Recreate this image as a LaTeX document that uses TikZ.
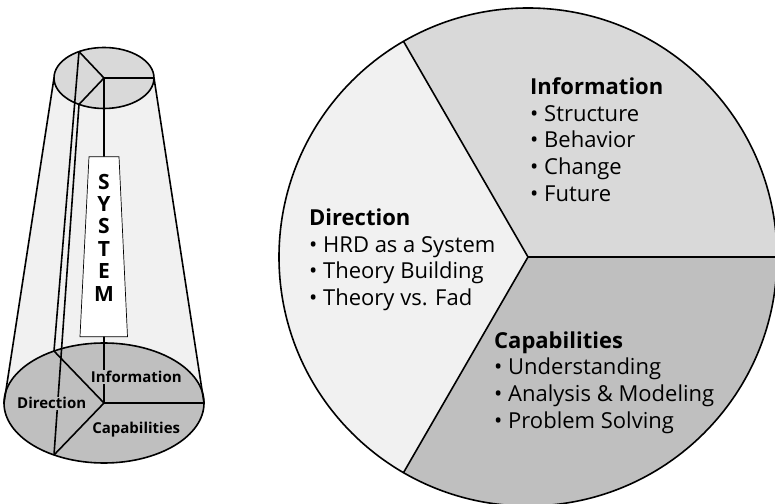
\documentclass[tikz,border=0pt]{standalone}
\usepackage{fontspec}
\setmainfont{Open Sans}
\definecolor{lightgrey}{gray}{0.945}
\definecolor{midgrey}{gray}{0.85}
\definecolor{darkgrey}{gray}{0.75}
\tikzset{outline/.style={line width=1.6pt}}
\tikzset{boxline/.style={line width=0.7pt}}
\tikzset{block/.style={anchor=north west, inner sep=0pt, align=left, font=\fontsize{22}{26.7}\selectfont}}
\tikzset{facet/.style={fill=darkgrey, inner sep=1pt, font=\fontsize{15}{18}\selectfont\bfseries}}
\tikzset{letters/.style={align=center, inner sep=0pt, font=\fontsize{21}{22.4}\selectfont\bfseries}}

\begin{document}
\begin{tikzpicture}[x=1pt,y=1pt]
\clip (0,0) rectangle (775,503);
% the cone
\coordinate (t0) at (104,425);
\coordinate (b0) at (104,100);
\path (t0) ++(0:50 and 30.5) coordinate (tr);
\path (t0) ++(180:50 and 30.5) coordinate (tl);
\path (t0) ++(120:50 and 30.5) coordinate (t120);
\path (t0) ++(240:50 and 30.5) coordinate (t240);
\path (b0) ++(0:100 and 60) coordinate (br);
\path (b0) ++(180:100 and 60) coordinate (bl);
\path (b0) ++(120:100 and 60) coordinate (b120);
\path (b0) ++(240:100 and 60) coordinate (b240);
\fill[lightgrey] (tl) -- (bl) arc[start angle=180, end angle=360, x radius=100, y radius=60] -- (tr) -- cycle;
\filldraw[outline, fill=darkgrey] (b0) ellipse [x radius=100, y radius=60];
\draw[outline] (b0) -- (br);
\draw[outline] (b0) -- (b120);
\draw[outline] (b0) -- (b240);
\draw[outline] (tl) -- (bl);
\draw[outline] (tr) -- (br);
\filldraw[outline, fill=midgrey] (t0) ellipse [x radius=50, y radius=30.5];
\draw[outline] (t0) -- (tr);
\draw[outline] (t0) -- (t120);
\draw[outline] (t0) -- (t240);
\draw[outline] (t0) -- (b0);
\draw[outline] (t120) -- (b120);
\draw[outline] (t240) -- (b240);
\filldraw[boxline, fill=white] (89,346.3) -- (119,346.3) -- (127.5,166.3) -- (80,166.3) -- cycle;
\node[letters] (system) at (104,265.5) {S\\Y\\S\\T\\E\\M};
\node[facet] (info) at (136.3,126.3) {Information};
\node[facet] (dir) at (51.7,99.7) {Direction};
\node[facet] (cap) at (136.2,73) {Capabilities};
% the pie
\coordinate (c) at (528,246);
\path (c) ++(0:249) coordinate (p0);
\path (c) ++(120:249) coordinate (p120);
\path (c) ++(240:249) coordinate (p240);
\fill[midgrey] (c) -- (p0) arc[start angle=0, end angle=120, radius=249] -- cycle;
\fill[lightgrey] (c) -- (p120) arc[start angle=120, end angle=240, radius=249] -- cycle;
\fill[darkgrey] (c) -- (p240) arc[start angle=240, end angle=360, radius=249] -- cycle;
\draw[outline] (c) circle[radius=249];
\draw[outline] (c) -- (p0);
\draw[outline] (c) -- (p120);
\draw[outline] (c) -- (p240);
\node[block] (information) at (530,425.5) {\textbf{Information}\\\textbullet\ Structure\\\textbullet\ Behavior\\\textbullet\ Change\\\textbullet\ Future};
\node[block] (direction) at (309,294.5) {\textbf{Direction}\\\textbullet\ HRD as a System\\\textbullet\ Theory Building\\\textbullet\ Theory vs. Fad};
\node[block] (capabilities) at (494,171.8) {\textbf{Capabilities}\\\textbullet\ Understanding\\\textbullet\ Analysis \& Modeling\\\textbullet\ Problem Solving};
\end{tikzpicture}
\end{document}
